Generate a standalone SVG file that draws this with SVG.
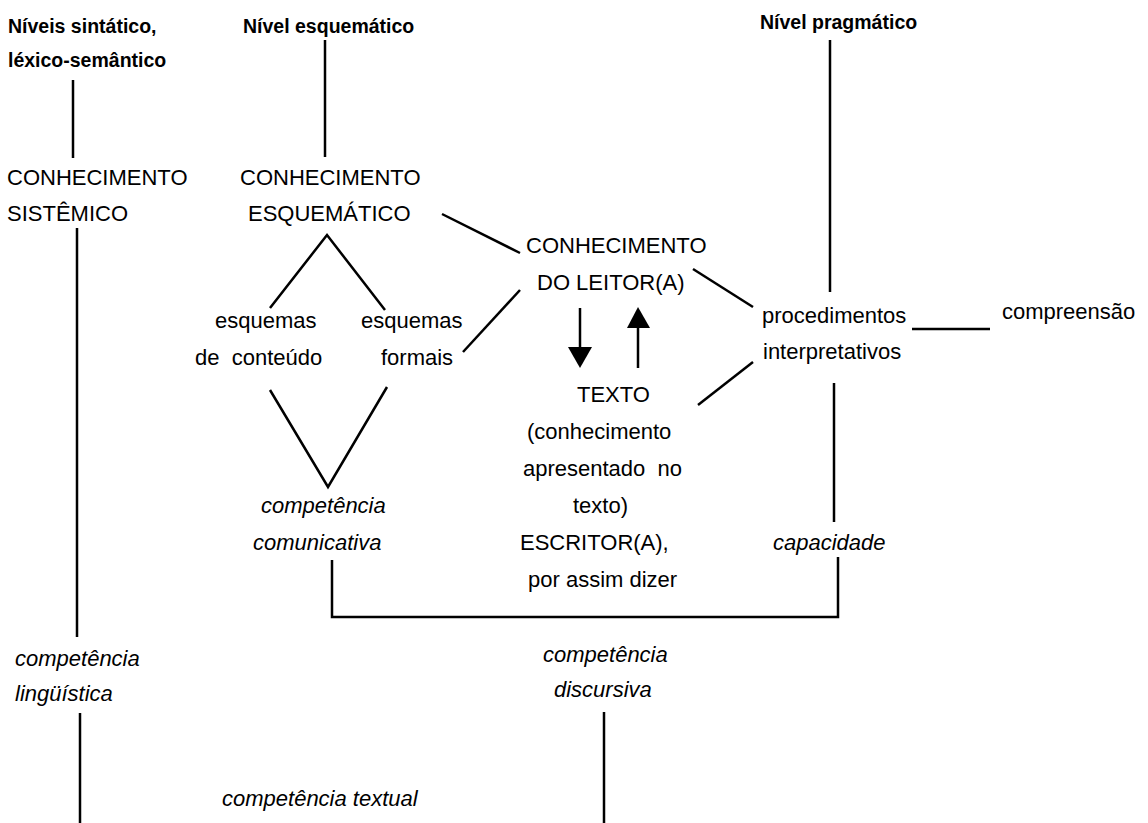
<svg xmlns="http://www.w3.org/2000/svg" width="1148" height="823" viewBox="0 0 1148 823">
<style>
text{font-family:"Liberation Sans",Arial,sans-serif;font-size:22px;fill:#000}
.h{font-weight:bold;font-size:19.5px}
.i{font-style:italic}
.c line,.c polyline{stroke:#000;stroke-width:2.5;fill:none}
.c polygon{fill:#000}
</style>
<rect width="1148" height="823" fill="#fff"/>
<g class="c" id="connectors">
<line x1="73" y1="80" x2="73" y2="158"/>
<line x1="325" y1="40" x2="325" y2="157"/>
<line x1="830" y1="40" x2="830" y2="292"/>
<line x1="77" y1="228" x2="77" y2="637"/>
<line x1="442" y1="214" x2="520" y2="253"/>
<line x1="693" y1="269" x2="753" y2="307"/>
<line x1="520" y1="290" x2="463" y2="352"/>
<polyline points="270,308 327,235 385,310"/>
<polyline points="270,390 328,487 387,387"/>
<line x1="580" y1="308" x2="580" y2="348"/>
<polygon points="568,347 592,347 580,368"/>
<line x1="638" y1="368" x2="638" y2="327"/>
<polygon points="627,328 650,328 638,307"/>
<line x1="912" y1="329" x2="990" y2="329"/>
<line x1="753" y1="362" x2="698" y2="405"/>
<line x1="834" y1="383" x2="834" y2="522"/>
<polyline points="332,560 332,617 838,617 838,557"/>
<line x1="80" y1="713" x2="80" y2="823"/>
<line x1="604" y1="712" x2="604" y2="823"/>
</g>
<g id="n-niveis-sintatico"><text class="h" x="8" y="33">Níveis sintático,</text><text class="h" x="8" y="67">léxico-semântico</text></g>
<g id="n-nivel-esquematico"><text class="h" x="243" y="33">Nível esquemático</text></g>
<g id="n-nivel-pragmatico"><text class="h" x="760" y="29">Nível pragmático</text></g>
<g id="n-conh-sistemico"><text x="7" y="185">CONHECIMENTO</text><text x="7" y="221">SISTÊMICO</text></g>
<g id="n-conh-esquematico"><text x="240" y="185">CONHECIMENTO</text><text x="248" y="221">ESQUEMÁTICO</text></g>
<g id="n-conh-leitor"><text x="526" y="253">CONHECIMENTO</text><text x="537" y="290">DO LEITOR(A)</text></g>
<g id="n-esq-conteudo"><text x="215" y="328">esquemas</text><text x="195" y="365" xml:space="preserve">de  conteúdo</text></g>
<g id="n-esq-formais"><text x="361" y="328">esquemas</text><text x="381" y="365">formais</text></g>
<g id="n-procedimentos"><text x="762" y="323">procedimentos</text><text x="763" y="359">interpretativos</text></g>
<g id="n-compreensao"><text x="1002" y="319">compreensão</text></g>
<g id="n-texto"><text x="577" y="402">TEXTO</text><text x="527" y="439">(conhecimento</text><text x="523" y="476" xml:space="preserve">apresentado  no</text><text x="573" y="513">texto)</text><text x="520" y="550">ESCRITOR(A),</text><text x="528" y="587">por assim dizer</text></g>
<g id="n-comp-comunicativa"><text class="i" x="261" y="513">competência</text><text class="i" x="253" y="550">comunicativa</text></g>
<g id="n-capacidade"><text class="i" x="773" y="550">capacidade</text></g>
<g id="n-comp-linguistica"><text class="i" x="15" y="666">competência</text><text class="i" x="15" y="701">lingüística</text></g>
<g id="n-comp-discursiva"><text class="i" x="543" y="662">competência</text><text class="i" x="554" y="697">discursiva</text></g>
<g id="n-comp-textual"><text class="i" x="222" y="806">competência textual</text></g>
</svg>
